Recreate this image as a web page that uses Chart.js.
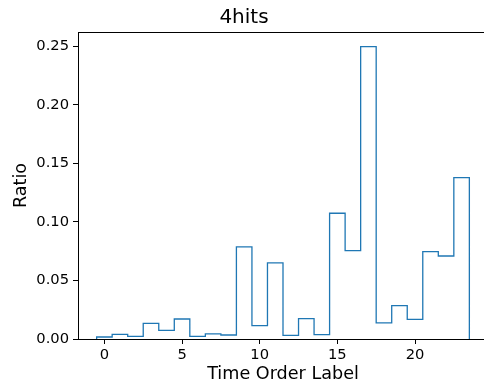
<!DOCTYPE html>
<html>
<head>
<meta charset="utf-8">
<script src="https://cdn.jsdelivr.net/npm/chart.js@4"></script>
<style>
  html, body { margin: 0; padding: 0; background: #fff; overflow: hidden; }
  canvas { display: block; }
</style>
</head>
<body>
<canvas id="chart" width="490" height="387"></canvas>
<script>
// данные гистограммы (читаются с картинки)
const binLabels = [0, 1, 2, 3, 4, 5, 6, 7, 8, 9, 10, 11, 12, 13, 14, 15, 16, 17, 18, 19, 20, 21, 22, 23];
const ratios = [0.0017, 0.0040, 0.0023, 0.0134, 0.0074, 0.0171, 0.0023, 0.0043, 0.0034, 0.0786, 0.0114, 0.0650,
                0.0031, 0.0174, 0.0037, 0.1074, 0.0755, 0.2497, 0.0137, 0.0285, 0.0168, 0.0746, 0.0709, 0.1379];
const xTicks = [0, 5, 10, 15, 20];
const yTicks = [0, 0.05, 0.10, 0.15, 0.20, 0.25];

const FONT = "'DejaVu Sans', sans-serif";

// точки ступенчатой линии (края корзин)
const stepPoints = [{ x: binLabels[0] - 0.5, y: 0 }];
binLabels.forEach((b, i) => stepPoints.push({ x: b - 0.5, y: ratios[i] }));
stepPoints.push({ x: binLabels[binLabels.length - 1] + 0.5, y: 0 });

// верхняя рамка как в matplotlib (правая уходит за край картинки)
const frame = {
    id: 'frame',
    afterDraw(chart) {
        const { ctx, chartArea: a } = chart;
        ctx.save();
        ctx.strokeStyle = '#000';
        ctx.lineWidth = 1;
        ctx.beginPath();
        ctx.moveTo(a.left, a.top + 0.5);
        ctx.lineTo(a.right, a.top + 0.5);
        ctx.stroke();
        ctx.restore();
    }
};

new Chart(document.getElementById('chart'), {
    type: 'line',
    data: {
        datasets: [{
            data: stepPoints,
            stepped: true,
            borderColor: '#1f77b4',
            borderWidth: 1.3,
            pointRadius: 0,
            fill: false,
            tension: 0
        }]
    },
    options: {
        responsive: false,
        animation: false,
        devicePixelRatio: 1,
        layout: { padding: { left: 0, right: 2, top: 0, bottom: 0 } },
        plugins: {
            legend: { display: false },
            tooltip: { enabled: false },
            title: {
                display: true,
                text: '4hits',
                color: '#000',
                font: { family: FONT, size: 20, weight: 'normal' },
                padding: { top: 6, bottom: 2 }
            }
        },
        scales: {
            x: {
                type: 'linear',
                min: -1.7,
                max: 24.7,
                afterBuildTicks: s => { s.ticks = xTicks.map(v => ({ value: v })); },
                afterFit: s => { s.height = 48; },
                grid: { drawOnChartArea: false, drawTicks: true, tickLength: 5, color: '#000' },
                border: { display: true, color: '#000', width: 1 },
                ticks: { color: '#000', padding: 2, maxRotation: 0, font: { family: FONT, size: 14.7 } },
                title: {
                    display: true,
                    text: 'Time Order Label',
                    color: '#000',
                    font: { family: FONT, size: 17.6 },
                    padding: { top: 0, bottom: 2.5 }
                }
            },
            y: {
                min: 0,
                max: 0.2622,
                afterBuildTicks: s => { s.ticks = yTicks.map(v => ({ value: v })); },
                afterFit: s => { s.width = 78; },
                grid: { drawOnChartArea: false, drawTicks: true, tickLength: 5, color: '#000' },
                border: { display: true, color: '#000', width: 1 },
                ticks: {
                    color: '#000',
                    padding: 4,
                    font: { family: FONT, size: 14.7 },
                    callback: v => v.toFixed(2)
                },
                title: {
                    display: true,
                    text: 'Ratio',
                    color: '#000',
                    font: { family: FONT, size: 17.6 },
                    padding: { top: 10.5, bottom: 0 }
                }
            }
        }
    },
    plugins: [frame]
});
</script>
</body>
</html>
